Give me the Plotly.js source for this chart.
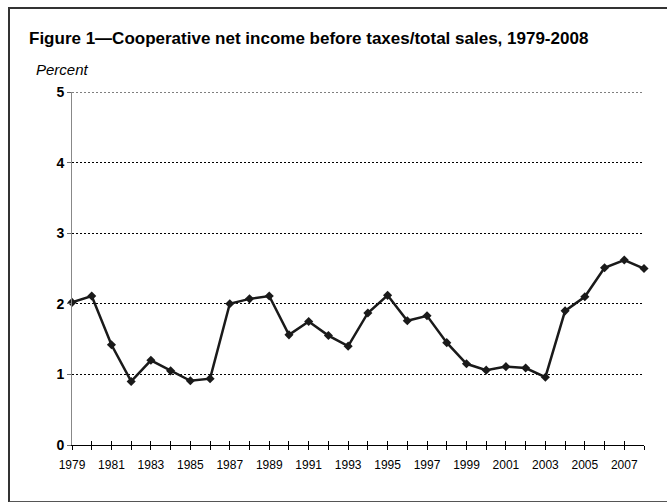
<!DOCTYPE html>
<html>
<head>
<meta charset="utf-8">
<script src="https://cdn.plot.ly/plotly-3.0.1.min.js"></script>
<style>
  html, body { margin: 0; padding: 0; background: #fff; }
  #frame { position: absolute; left: 8px; top: 7px; width: 670px; height: 492px;
           border-left: 2px solid #333; border-top: 2px solid #333; border-bottom: 2px solid #555; }
  #chart { position: absolute; left: 0; top: 0; width: 667px; height: 502px; }
</style>
</head>
<body>
<div id="frame"></div>
<div id="chart"></div>
<script>
const years = [1979,1980,1981,1982,1983,1984,1985,1986,1987,1988,1989,1990,1991,1992,1993,1994,1995,1996,1997,1998,1999,2000,2001,2002,2003,2004,2005,2006,2007,2008];
const percent = [2.02,2.11,1.42,0.90,1.20,1.05,0.91,0.94,2.00,2.07,2.11,1.56,1.75,1.55,1.40,1.87,2.12,1.76,1.83,1.45,1.15,1.06,1.11,1.09,0.96,1.90,2.10,2.51,2.62,2.50];
const tickYears = years;
const tickLabels = years.map((y, i) => (i % 2 === 0 ? String(y) : ''));
const yTicks = [0,1,2,3,4,5];
const yMax = 5;

const trace = {
  x: years, y: percent, type: 'scatter', mode: 'lines+markers',
  line: { color: '#1a1a1a', width: 2.5 },
  marker: { symbol: 'diamond', size: 7, color: '#1a1a1a' },
  cliponaxis: false, hoverinfo: 'skip'
};
const layout = {
  width: 667, height: 502,
  margin: { l: 72, r: 23, t: 92, b: 57 },
  paper_bgcolor: 'rgba(0,0,0,0)', plot_bgcolor: 'rgba(0,0,0,0)',
  font: { family: 'Liberation Sans, Arial, sans-serif', color: '#000' },
  showlegend: false,
  title: { text: '<b>Figure 1—Cooperative net income before taxes/total sales, 1979-2008</b>',
           xref: 'container', yref: 'container', x: 29/667, xanchor: 'left', y: 1 - 38/502, yanchor: 'middle',
           font: { size: 17, family: 'Liberation Sans, Arial, sans-serif', color: '#000' } },
  xaxis: {
    range: [1979, 2008], tickvals: tickYears, ticktext: tickLabels,
    showgrid: false, zeroline: false, showline: true, linecolor: '#000', linewidth: 1,
    ticks: 'outside', ticklen: 4, tickcolor: '#000', tickwidth: 1, ticklabelstandoff: 5,
    tickfont: { size: 12, color: '#000' }, tickangle: 0, fixedrange: true
  },
  xaxis2: {
    overlaying: 'x', matches: 'x', range: [1979, 2008], tickvals: tickYears, ticktext: tickYears.map(() => ''),
    showgrid: false, zeroline: false, showline: false, side: 'bottom', anchor: 'y',
    ticks: 'inside', ticklen: 4, tickcolor: '#000', tickwidth: 1, showticklabels: false
  },
  yaxis: {
    range: [0, yMax], tickvals: yTicks, ticktext: yTicks.map(v => '<b>' + v + '</b>'),
    showgrid: true, gridcolor: '#000', griddash: '2px,2px', gridwidth: 1,
    zeroline: false, showline: true, linecolor: '#888', linewidth: 1,
    ticks: 'outside', ticklen: 4, tickcolor: '#666',
    tickfont: { size: 14, color: '#000' }, fixedrange: true
  },
  shapes: [{
    type: 'line', xref: 'paper', x0: 0, x1: 1, yref: 'y', y0: yMax, y1: yMax,
    line: { color: '#000', width: 1, dash: '2px,2px' }, layer: 'below'
  }],
  annotations: [{
    text: '<i>Percent</i>', xref: 'paper', yref: 'paper', x: (34-72)/572, y: 1 + (92-69)/353,
    xanchor: 'left', yanchor: 'middle', showarrow: false, font: { size: 15, color: '#000' }
  }]
};
const ghost = { x: [1979], y: [0], xaxis: 'x2', yaxis: 'y', mode: 'markers', marker: { opacity: 0 }, hoverinfo: 'skip' };
Plotly.newPlot('chart', [ghost, trace], layout, { staticPlot: true });
</script>
</body>
</html>
